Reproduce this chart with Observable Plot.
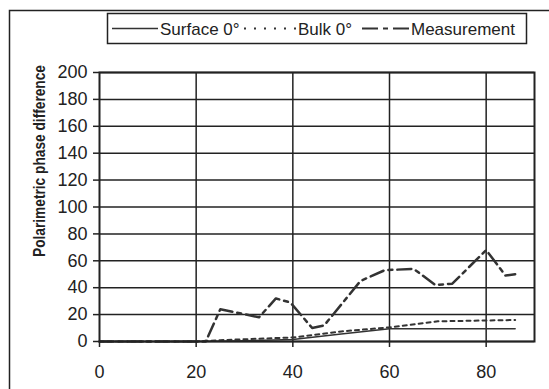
<!DOCTYPE html>
<html>
<head>
<meta charset="utf-8">
<script src="https://cdn.jsdelivr.net/npm/d3@7"></script>
<script src="https://cdn.jsdelivr.net/npm/@observablehq/plot@0.6"></script>
<style>
  html, body { margin: 0; padding: 0; background: white; }
  #chart { width: 549px; height: 389px; overflow: hidden; }
</style>
</head>
<body>
<div id="chart"></div>
<script>
// Angle (x) values and series
const surfaceX = [0, 20, 30, 40, 50, 60, 86];
const surfaceY = [0, 0, 0.5, 1.5, 5.5, 9.5, 9.5];

const bulkX = [0, 20, 25, 40, 50, 60, 70, 86];
const bulkY = [0, 0, 1, 3, 7.5, 10.5, 15, 16];

const measX = [0, 5, 10, 15, 20, 22, 25, 33, 36.5, 39.5, 44, 46.5, 54, 59, 65, 69.5, 73, 80, 84, 86];
const measY = [0, 0, 0, 0, 0, 0, 24, 18, 32, 29, 10, 12, 45, 53, 54, 42, 43, 68, 49, 50];

const xTicks = [0, 20, 40, 60, 80];
const xGrid = [20, 40, 60, 80];
const yTicks = [0, 20, 40, 60, 80, 100, 120, 140, 160, 180, 200];

const seriesNames = ["Surface 0°", "Bulk 0°", "Measurement"];
const yLabel = "Polarimetric phase difference";

const toRows = (xs, ys) => xs.map((x, i) => ({x, y: ys[i]}));
const surface = toRows(surfaceX, surfaceY);
const bulk = toRows(bulkX, bulkY);
const meas = toRows(measX, measY);

const ink = "#222";
const lineInk = "#333";
const dashes = ["none", "4,4", "14,5,4,5"];
const legendDashes = ["none", "2,8", "16,5,5,5"];

const chart = Plot.plot({
  width: 549,
  height: 389,
  marginLeft: 99,
  marginRight: 15,
  marginTop: 72,
  marginBottom: 48,
  x: {domain: [0, 90]},
  y: {domain: [0, 200]},
  style: {fontFamily: "'Liberation Sans', Arial, sans-serif", fontSize: "18px", color: ink, background: "white", overflow: "visible"},
  marks: [
    Plot.gridY(yTicks, {stroke: ink, strokeOpacity: 1, strokeWidth: 1.5}),
    Plot.gridX(xGrid, {stroke: ink, strokeOpacity: 1, strokeWidth: 1.5}),
    Plot.line(surface, {x: "x", y: "y", stroke: lineInk, strokeWidth: 1.5}),
    Plot.line(bulk, {x: "x", y: "y", stroke: lineInk, strokeWidth: 2, strokeDasharray: dashes[1]}),
    Plot.line(meas, {x: "x", y: "y", stroke: lineInk, strokeWidth: 2.5, strokeDasharray: dashes[2]}),
    Plot.frame({stroke: ink, strokeWidth: 2}),
    Plot.axisX(xTicks, {tickSize: 6, tickPadding: 18, label: null, strokeWidth: 1.5, stroke: ink}),
    Plot.axisY(yTicks, {tickSize: 6, tickPadding: 6, label: null, strokeWidth: 1.5, stroke: ink})
  ]
});

document.getElementById("chart").appendChild(chart);

const svg = d3.select(chart);

// outer frame (extends beyond the picture on right and bottom)
svg.append("rect")
  .attr("x", 9.5).attr("y", 10.5)
  .attr("width", 700).attr("height", 600)
  .attr("fill", "none").attr("stroke", ink).attr("stroke-width", 1.5);

// y-axis title
svg.append("text")
  .attr("transform", "translate(45,161) rotate(-90)")
  .attr("text-anchor", "middle")
  .attr("font-weight", "bold")
  .attr("font-size", 16.5)
  .attr("fill", ink)
  .attr("textLength", 192)
  .attr("lengthAdjust", "spacingAndGlyphs")
  .text(yLabel);

// legend
const lg = svg.append("g").attr("text-anchor", "start");
lg.append("rect")
  .attr("x", 107.5).attr("y", 13.5).attr("width", 419).attr("height", 30)
  .attr("fill", "white").attr("stroke", ink).attr("stroke-width", 1.5);
const items = [
  {x1: 112, x2: 158, tx: 160},
  {x1: 244, x2: 296, tx: 298},
  {x1: 362, x2: 409, tx: 411}
];
items.forEach((it, i) => {
  lg.append("line")
    .attr("x1", it.x1).attr("x2", it.x2).attr("y1", 28.5).attr("y2", 28.5)
    .attr("stroke", lineInk).attr("stroke-width", i === 0 ? 1.5 : 2)
    .attr("stroke-dasharray", legendDashes[i]);
  lg.append("text")
    .attr("x", it.tx).attr("y", 34.5)
    .attr("text-anchor", "start")
    .attr("font-size", 17)
    .attr("fill", ink)
    .text(seriesNames[i]);
});
</script>
</body>
</html>
